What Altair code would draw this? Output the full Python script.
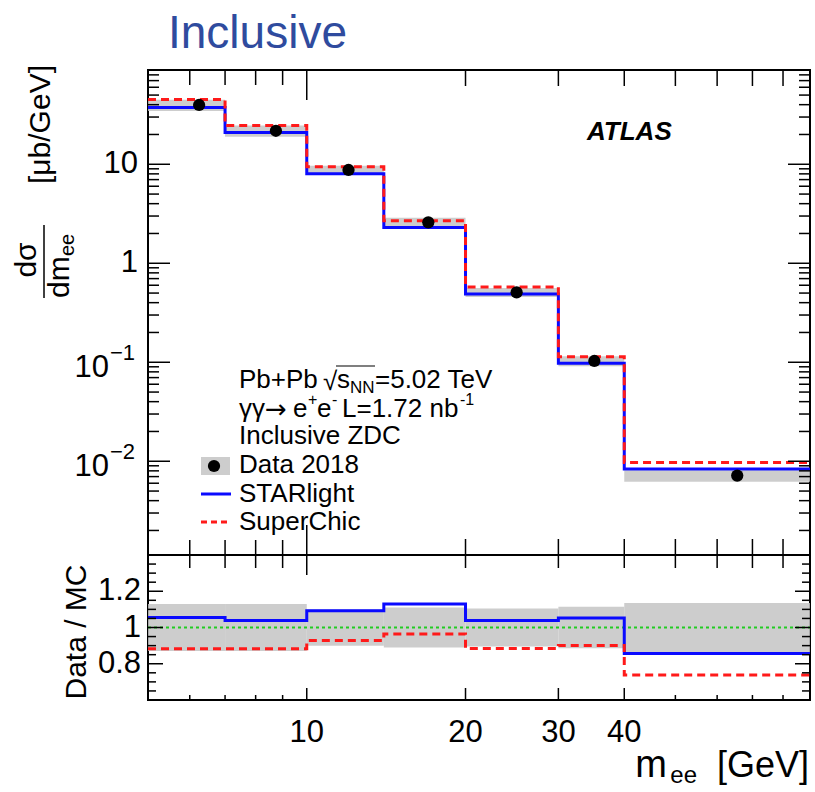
import altair as alt
import pandas as pd

FONT = "Liberation Sans"

# ---------------- data ----------------
edges = [5, 7, 10, 14, 20, 30, 40, 90]
data_x = [6.25, 8.74, 12.0, 17.0, 25.0, 35.1, 65.5]
data_y = [39.7, 21.8, 8.76, 2.59, 0.509, 0.103, 0.00716]
rel_err = [0.13, 0.13, 0.10, 0.11, 0.105, 0.115, 0.135]
starlight = [37.5, 21.0, 8.02, 2.30, 0.490, 0.098, 0.00837]
superchic = [45.0, 24.7, 9.44, 2.69, 0.575, 0.114, 0.0097]
ratio_star = [1.055, 1.039, 1.092, 1.129, 1.039, 1.052, 0.857]
ratio_sc = [0.883, 0.883, 0.928, 0.964, 0.884, 0.901, 0.738]

# tick values / labels
x_major = [10]
x_medium = [20, 30, 40, 50, 60, 70, 80]
x_minor = [6, 7, 8, 9]
x_label_vals = [10, 20, 30, 40]
x_label_txt = ["10", "20", "30", "40"]
y_major = [0.01, 0.1, 1, 10]
y_minor = [0.002, 0.003, 0.004, 0.005, 0.006, 0.007, 0.008, 0.009,
           0.02, 0.03, 0.04, 0.05, 0.06, 0.07, 0.08, 0.09,
           0.2, 0.3, 0.4, 0.5, 0.6, 0.7, 0.8, 0.9,
           2, 3, 4, 5, 6, 7, 8, 9, 20, 30, 40, 50, 60, 70, 80]
r_major = [0.8, 1.0, 1.2]
r_minor = [0.65, 0.7, 0.75, 0.85, 0.9, 0.95, 1.05, 1.1, 1.15, 1.25, 1.3, 1.35]
r_label_txt = ["0.8", "1", "1.2"]

W, H1, H2 = 662, 485, 145
xs = alt.Scale(type="log", domain=[5, 90], nice=False)
ys = alt.Scale(type="log", domain=[0.00113, 89.6], nice=False)
rs = alt.Scale(domain=[0.6, 1.4], nice=False, zero=False)

bins = pd.DataFrame({"lo": edges[:-1], "hi": edges[1:], "d": data_y,
                     "err": rel_err, "px": data_x})
bins["dlo"] = bins["d"] * (1 - bins["err"])
bins["dhi"] = bins["d"] * (1 + bins["err"])
bins["rlo"] = 1 - bins["err"]
bins["rhi"] = 1 + bins["err"]

steps = pd.DataFrame({"x": edges,
                      "star": starlight + [starlight[-1]],
                      "sc": superchic + [superchic[-1]],
                      "rstar": ratio_star + [ratio_star[-1]],
                      "rsc": ratio_sc + [ratio_sc[-1]]})

BAND = "#c4c4c4"
BLUE = "#0a0aff"
RED = "#ff1a1a"


def txt(s, x, y, size=26, align="left", baseline="middle", color="black",
        angle=None, style=None, weight=None, font=FONT):
    kw = dict(align=align, baseline=baseline, fontSize=size, font=font, color=color)
    if angle is not None:
        kw["angle"] = angle
    if style:
        kw["fontStyle"] = style
    if weight:
        kw["fontWeight"] = weight
    return alt.Chart(pd.DataFrame({"t": [s]})).mark_text(**kw).encode(
        x=alt.value(x), y=alt.value(y), text="t:N")


def hrule(x1, x2, y, color="black", width=1.5, dash=None):
    kw = dict(color=color, strokeWidth=width)
    if dash:
        kw["strokeDash"] = dash
    return alt.Chart(pd.DataFrame({"a": [0]})).mark_rule(**kw).encode(
        x=alt.value(x1), x2=alt.value(x2), y=alt.value(y), y2=alt.value(y))


def xticks(vals, length, H, top=True, bottom=True):
    df = pd.DataFrame({"v": vals})
    out = []
    base = alt.Chart(df).mark_rule(color="black", strokeWidth=1.5)
    if bottom:
        out.append(base.encode(x=alt.X("v:Q", scale=xs, axis=None),
                               y=alt.value(H), y2=alt.value(H - length)))
    if top:
        out.append(base.encode(x=alt.X("v:Q", scale=xs, axis=None),
                               y=alt.value(0), y2=alt.value(length)))
    return out


def yticks(vals, length, scale):
    df = pd.DataFrame({"v": vals})
    base = alt.Chart(df).mark_rule(color="black", strokeWidth=1.5)
    return [base.encode(y=alt.Y("v:Q", scale=scale, axis=None),
                        x=alt.value(0), x2=alt.value(length)),
            base.encode(y=alt.Y("v:Q", scale=scale, axis=None),
                        x=alt.value(W), x2=alt.value(W - length))]


# ---------------- main panel ----------------
band = alt.Chart(bins).mark_rect(color=BAND, opacity=0.85).encode(
    x=alt.X("lo:Q", scale=xs, axis=None), x2="hi:Q",
    y=alt.Y("dlo:Q", scale=ys, axis=None), y2="dhi:Q")
l_star = alt.Chart(steps).mark_line(interpolate="step-after", color=BLUE,
                                    strokeWidth=3, clip=True).encode(
    x=alt.X("x:Q", scale=xs, axis=None), y=alt.Y("star:Q", scale=ys, axis=None))
l_sc = alt.Chart(steps).mark_line(interpolate="step-after", color=RED,
                                  strokeWidth=3, strokeDash=[8, 5], clip=True).encode(
    x=alt.X("x:Q", scale=xs, axis=None), y=alt.Y("sc:Q", scale=ys, axis=None))
pts = alt.Chart(bins).mark_circle(size=150, color="black", opacity=1).encode(
    x=alt.X("px:Q", scale=xs, axis=None), y=alt.Y("d:Q", scale=ys, axis=None))

ylab_plain = alt.Chart(pd.DataFrame({"v": [10, 1], "t": ["10", "1"]})).mark_text(
    align="right", baseline="middle", fontSize=31, font=FONT, color="black").encode(
    x=alt.value(-10), y=alt.Y("v:Q", scale=ys, axis=None), text="t:N")
exp_df = pd.DataFrame({"v": [0.1, 0.01], "b": ["10", "10"], "s": ["\u22121", "\u22122"]})
ylab_base = alt.Chart(exp_df).mark_text(
    align="right", baseline="middle", fontSize=31, font=FONT, color="black", dy=6).encode(
    x=alt.value(-39), y=alt.Y("v:Q", scale=ys, axis=None), text="b:N")
ylab_sup = alt.Chart(exp_df).mark_text(
    align="left", baseline="middle", fontSize=22, font=FONT, color="black", dy=-9).encode(
    x=alt.value(-38), y=alt.Y("v:Q", scale=ys, axis=None), text="s:N")

main_layers = [band, l_star, l_sc, pts]
main_layers += xticks(x_major, 30, H1) + xticks(x_medium, 16, H1) + xticks(x_minor, 15, H1)
main_layers += yticks(y_major, 22, ys) + yticks(y_minor, 11, ys)
main_layers += [ylab_plain, ylab_base, ylab_sup]

# anchor top-left corner of the page (white, invisible)
main_layers.append(hrule(-146, -145, -68, color="white", width=0.5))

# title
main_layers.append(txt("Inclusive", 20, -36, size=46, color="#2f4b9e"))
# ATLAS
main_layers.append(txt("ATLAS", 439, 62, size=26, style="italic", weight="bold"))

# y-axis title (rotated)
main_layers.append(txt("[\u03bcb/GeV]", -107, -5, size=30, angle=270, align="right"))
main_layers.append(txt("d\u03c3", -121, 190, size=30, angle=270, align="center"))
main_layers.append(alt.Chart(pd.DataFrame({"a": [0]})).mark_rule(color="black", strokeWidth=1.5).encode(
    x=alt.value(-104), x2=alt.value(-104), y=alt.value(155), y2=alt.value(228)))
main_layers.append(txt("dm", -88, 228, size=30, angle=270, align="left"))
main_layers.append(txt("ee", -80, 186, size=20, angle=270, align="left"))

# legend text block
LX = 91
main_layers += [
    txt("Pb+Pb", LX, 310),
    txt("\u221a", 175, 312),
    txt("s", 189, 310),
    txt("NN", 202, 318, size=17),
    txt("=5.02 TeV", 227, 310),
    hrule(188, 227, 296, width=1.2),
    txt("\u03b3\u03b3", LX, 339),
    txt("\u2192", 117, 340, font="DejaVu Sans"),
    txt("e", 145, 339),
    txt("+", 160, 330, size=16),
    txt("e", 169, 339),
    txt("-", 184, 330, size=16),
    txt("L=1.72 nb", 194, 339),
    txt("-1", 312, 330, size=16),
    txt("Inclusive ZDC", LX, 366),
    txt("Data 2018", LX, 395),
    txt("STARlight", LX, 424),
    txt("SuperChic", LX, 452),
]
leg_box = alt.Chart(pd.DataFrame({"a": [0]})).mark_rect(color=BAND, opacity=0.85).encode(
    x=alt.value(53), x2=alt.value(82), y=alt.value(387), y2=alt.value(405))
leg_pt = alt.Chart(pd.DataFrame({"a": [0]})).mark_circle(size=150, color="black", opacity=1).encode(
    x=alt.value(66), y=alt.value(396))
main_layers += [leg_box, leg_pt,
                hrule(53, 83, 424, color=BLUE, width=3),
                hrule(53, 83, 452, color=RED, width=3, dash=[6, 4])]

main = alt.layer(*main_layers).properties(width=W, height=H1)

# ---------------- ratio panel ----------------
rband = alt.Chart(bins).mark_rect(color=BAND, opacity=0.85).encode(
    x=alt.X("lo:Q", scale=xs, axis=None), x2="hi:Q",
    y=alt.Y("rlo:Q", scale=rs, axis=None), y2="rhi:Q")
one = alt.Chart(pd.DataFrame({"r": [1.0]})).mark_rule(
    color="#22cc22", strokeWidth=2, strokeDash=[3, 3]).encode(
    y=alt.Y("r:Q", scale=rs, axis=None), x=alt.value(0), x2=alt.value(W))
r_star = alt.Chart(steps).mark_line(interpolate="step-after", color=BLUE,
                                    strokeWidth=3, clip=True).encode(
    x=alt.X("x:Q", scale=xs, axis=None), y=alt.Y("rstar:Q", scale=rs, axis=None))
r_sc = alt.Chart(steps).mark_line(interpolate="step-after", color=RED,
                                  strokeWidth=3, strokeDash=[8, 5], clip=True).encode(
    x=alt.X("x:Q", scale=xs, axis=None), y=alt.Y("rsc:Q", scale=rs, axis=None))

rlab = alt.Chart(pd.DataFrame({"v": r_major, "t": r_label_txt})).mark_text(
    align="right", baseline="middle", fontSize=31, font=FONT, color="black").encode(
    x=alt.value(-7), y=alt.Y("v:Q", scale=rs, axis=None), text="t:N")
xlab = alt.Chart(pd.DataFrame({"v": x_label_vals, "t": x_label_txt})).mark_text(
    align="center", baseline="middle", fontSize=31, font=FONT, color="black").encode(
    x=alt.X("v:Q", scale=xs, axis=None), y=alt.value(178), text="t:N")

ratio_layers = [rband, one, r_star, r_sc]
ratio_layers += xticks(x_major, 20, H2, bottom=False) + xticks(x_medium + x_minor, 13, H2, bottom=False)
ratio_layers += xticks([10, 20, 30, 40], 12, H2, top=False) + xticks([50, 60, 70, 80] + x_minor, 5, H2, top=False)
ratio_layers += yticks(r_major, 15, rs) + yticks(r_minor, 8, rs)
ratio_layers += [rlab, xlab,
                 txt("Data / MC", -71, 77, size=30, angle=270, align="center"),
                 txt("[GeV]", 661, 222, size=36, align="right", baseline="alphabetic"),
                 txt("ee", 549, 228, size=24, align="right", baseline="alphabetic"),
                 txt("m", 519, 222, size=38, align="right", baseline="alphabetic")]

ratio = alt.layer(*ratio_layers).properties(width=W, height=H2)

chart = alt.vconcat(main, ratio, spacing=0, bounds="flush").properties(padding=0).configure_view(
    stroke="black", strokeWidth=2)

chart.save("out.html", embed_options={"renderer": "svg", "actions": False})
